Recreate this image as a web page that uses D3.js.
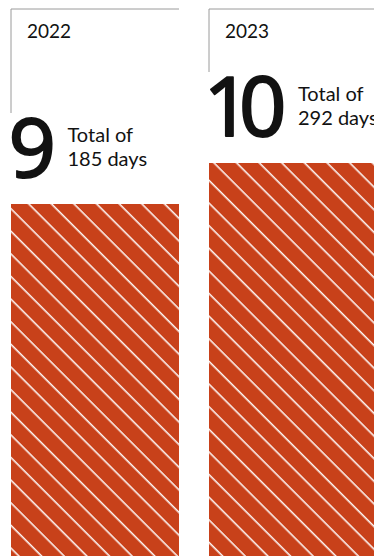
<!DOCTYPE html>
<html>
<head>
<meta charset="utf-8">
<script src="https://cdn.jsdelivr.net/npm/d3@7"></script>
<style>
  html, body { margin: 0; padding: 0; background: #fff; }
  svg { display: block; }
  text { font-family: "Noto Sans", "Open Sans", sans-serif; fill: #121212; }
  text.small { font-family: Lato, "Noto Sans", sans-serif; }
</style>
</head>
<body>
<svg id="chart" width="374" height="556"></svg>
<script>
// Yearly counts and the total number of days they add up to
const years = ["2022", "2023"];
const counts = [9, 10];
const totalDays = [185, 292];
const labelPrefix = "Total of";
const labelUnit = "days";

const barColor = "#c8411a";
const frameColor = "#9a9a9a";
const bigFont = { size: 83, weight: 400, spacing: -12, stroke: 1.8 };

const svg = d3.select("#chart");

// diagonal white hatching over the bars
const defs = svg.append("defs");
const pat = defs.append("pattern")
  .attr("id", "hatch")
  .attr("patternUnits", "userSpaceOnUse")
  .attr("width", 16).attr("height", 16)
  .attr("patternTransform", "rotate(45)");
pat.append("rect").attr("width", 16).attr("height", 16).attr("fill", barColor);
pat.append("line")
  .attr("x1", -1).attr("x2", 17)
  .attr("y1", 11.8).attr("y2", 11.8)
  .attr("stroke", "#fff").attr("stroke-width", 1.5);

const x = d3.scaleBand()
  .domain(years)
  .range([11, 377])
  .paddingInner(30 / 198)
  .paddingOuter(0);

const y = d3.scaleLinear()
  .domain([0, d3.max(counts)])
  .range([573, 163]);

// ink extents of the big numbers, so they line up with the bar edge
const ctx = document.createElement("canvas").getContext("2d");
ctx.font = `${bigFont.weight} ${bigFont.size}px "Noto Sans", "Open Sans", sans-serif`;
if ("letterSpacing" in ctx) ctx.letterSpacing = bigFont.spacing + "px";
const ink = s => {
  const m = ctx.measureText(s);
  return { left: m.actualBoundingBoxLeft, right: m.actualBoundingBoxRight };
};

const rows = years.map((yr, i) => ({ year: yr, count: counts[i], days: totalDays[i] }));

const g = svg.selectAll("g.col").data(rows).join("g").attr("class", "col");

// bars
g.append("rect")
  .attr("x", d => x(d.year))
  .attr("y", d => y(d.count))
  .attr("width", x.bandwidth())
  .attr("height", d => y(0) - y(d.count))
  .attr("fill", "url(#hatch)");

const digitH = 59;
const baseOf = d => y(d.count) - 27;

// frame: top rule and left rule down to the big number
g.append("line")
  .attr("x1", d => x(d.year)).attr("x2", d => x(d.year) + x.bandwidth())
  .attr("y1", 9).attr("y2", 9)
  .attr("stroke", frameColor).attr("stroke-width", 1);
g.append("line")
  .attr("x1", d => x(d.year)).attr("x2", d => x(d.year))
  .attr("y1", 9).attr("y2", d => baseOf(d) - digitH - 5)
  .attr("stroke", frameColor).attr("stroke-width", 1);

// year label
g.append("text")
  .attr("class", "small")
  .attr("x", d => x(d.year) + 16)
  .attr("y", 38)
  .attr("font-size", 19)
  .text(d => d.year);

// big count plus the two-line total beside it
g.each(function(d) {
  const sel = d3.select(this);
  const label = String(d.count);
  const m = ink(label);
  const bx = x(d.year) + 1.5 + m.left;
  sel.append("text")
    .attr("x", bx)
    .attr("y", baseOf(d))
    .attr("font-size", bigFont.size)
    .attr("font-weight", bigFont.weight)
    .attr("letter-spacing", bigFont.spacing)
    .attr("stroke", "#121212")
    .attr("stroke-width", bigFont.stroke)
    .attr("stroke-linejoin", "round")
    .text(label);
  const tx = bx + m.right + 15;
  sel.append("text")
    .attr("class", "small")
    .attr("font-size", 20)
    .attr("x", tx)
    .attr("y", baseOf(d) - 35)
    .text(labelPrefix);
  sel.append("text")
    .attr("class", "small")
    .attr("font-size", 20)
    .attr("x", tx)
    .attr("y", baseOf(d) - 11)
    .text(d.days + " " + labelUnit);
});
</script>
</body>
</html>
